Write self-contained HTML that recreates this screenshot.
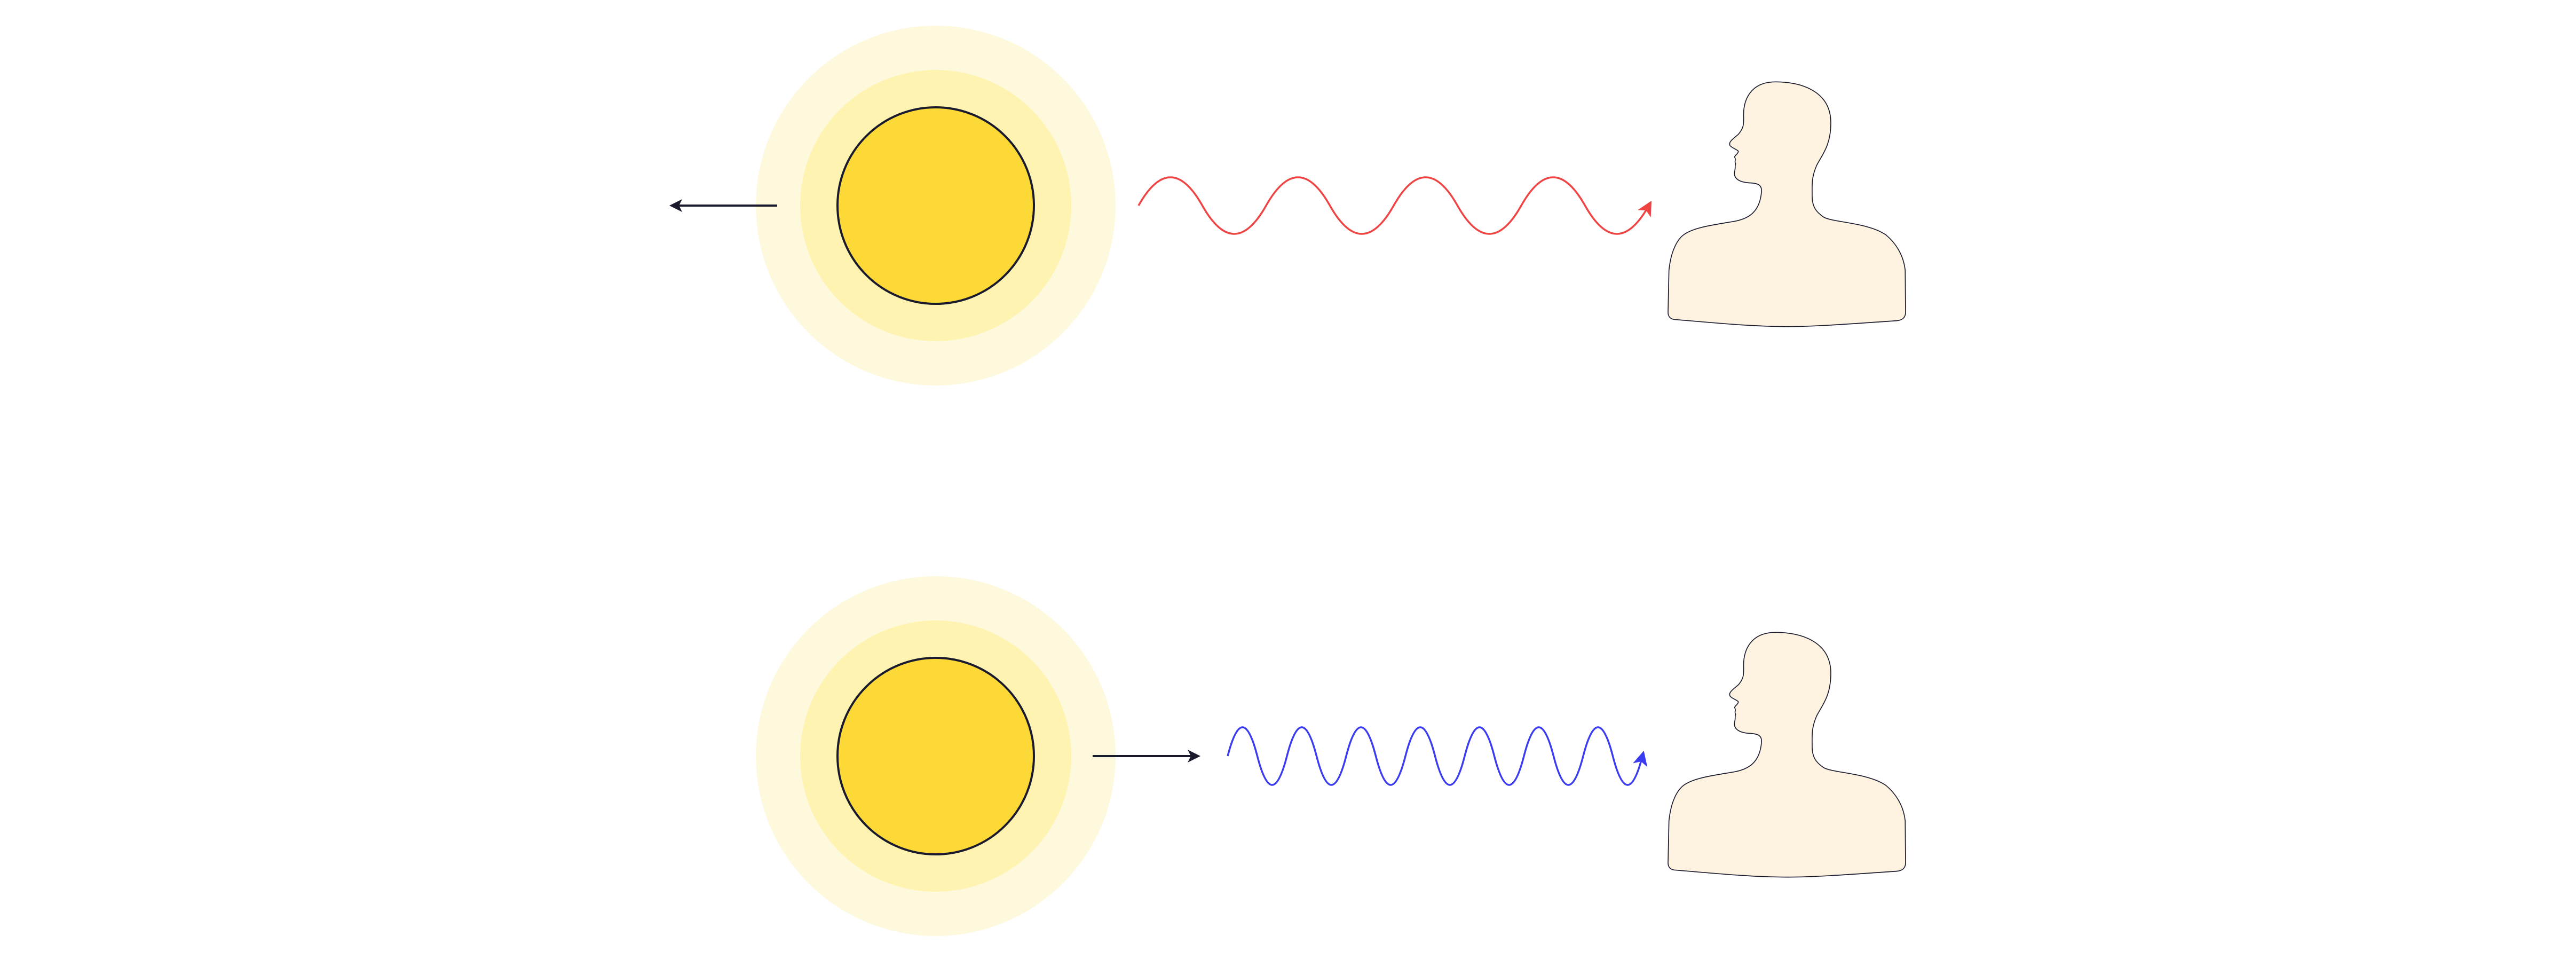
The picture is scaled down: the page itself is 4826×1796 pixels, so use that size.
<!DOCTYPE html>
<html><head><meta charset="utf-8"><style>html,body{margin:0;padding:0;background:#fff}svg{display:block}</style></head>
<body>
<svg width="4826" height="1796" viewBox="0 0 4826 1796" xmlns="http://www.w3.org/2000/svg">
<defs>
<marker id="ar" markerWidth="8" markerHeight="8" refX="5" refY="4" orient="auto" markerUnits="strokeWidth"><path d="M0,0 L8,4 L0,8 L2,4 Z" fill="#ef4444"/></marker>
<marker id="ab" markerWidth="8" markerHeight="8" refX="5" refY="4" orient="auto" markerUnits="strokeWidth"><path d="M0,0 L8,4 L0,8 L2,4 Z" fill="#3b3bf0"/></marker>
<marker id="ak" markerWidth="6" markerHeight="6" refX="4" refY="3" orient="auto" markerUnits="strokeWidth"><path d="M0,0 L6,3 L0,6 L1.5,3 Z" fill="#1a1a2e"/></marker>
<path id="person" d="M110 1435 C90 1432 75 1420 75 1395 L80 1160 C90 1060 120 1000 150 970 C200 920 320 905 440 885 C530 870 590 830 600 720 C605 680 580 670 540 668 C470 665 440 640 450 600 C455 580 450 570 455 560 C445 545 460 540 450 525 C445 515 470 505 470 490 C465 480 440 475 425 460 C410 440 440 420 470 395 C500 360 500 340 500 300 C495 200 540 100 680 100 C820 100 990 150 990 330 C990 460 940 510 910 570 C880 640 885 680 885 740 C885 800 905 830 950 860 C1000 890 1200 890 1300 960 C1360 1010 1400 1080 1408 1160 L1410 1390 C1412 1425 1390 1440 1360 1442 C1100 1460 900 1475 750 1475 C550 1475 350 1455 110 1435 Z" fill="#fef2e0" stroke="#1a1a2e" stroke-width="5"/>
</defs>
<!-- top -->
<circle cx="1753" cy="385" r="337" fill="#fef9dc"/>
<circle cx="1753" cy="385" r="254" fill="#fef3b0"/>
<circle cx="1753" cy="385" r="184" fill="#fcd937" stroke="#1a1a2e" stroke-width="4"/>
<line x1="1456" y1="385" x2="1262" y2="385" stroke="#1a1a2e" stroke-width="4" marker-end="url(#ak)"/>
<path d="M2133 385 Q2192.75 279 2252.5 385 T2372 385 T2491.5 385 T2611 385 T2730.5 385 T2850 385 T2969.5 385 T3089 385" fill="none" stroke="#ef4444" stroke-width="3.5" marker-end="url(#ar)"/>
<use href="#person" transform="translate(3100,120) scale(0.3333)"/>
<!-- bottom -->
<circle cx="1753" cy="1416" r="337" fill="#fef9dc"/>
<circle cx="1753" cy="1416" r="254" fill="#fef3b0"/>
<circle cx="1753" cy="1416" r="184" fill="#fcd937" stroke="#1a1a2e" stroke-width="4"/>
<line x1="2047" y1="1416" x2="2241" y2="1416" stroke="#1a1a2e" stroke-width="4" marker-end="url(#ak)"/>
<path d="M2300 1416 Q2327.75 1308 2355.5 1416 T2411 1416 T2466.5 1416 T2522 1416 T2577.5 1416 T2633 1416 T2688.5 1416 T2744 1416 T2799.5 1416 T2855 1416 T2910.5 1416 T2966 1416 T3021.5 1416 T3077 1416" fill="none" stroke="#3b3bf0" stroke-width="3.5" marker-end="url(#ab)"/>
<use href="#person" transform="translate(3100,1151) scale(0.3333)"/>
</svg>
</body></html>
